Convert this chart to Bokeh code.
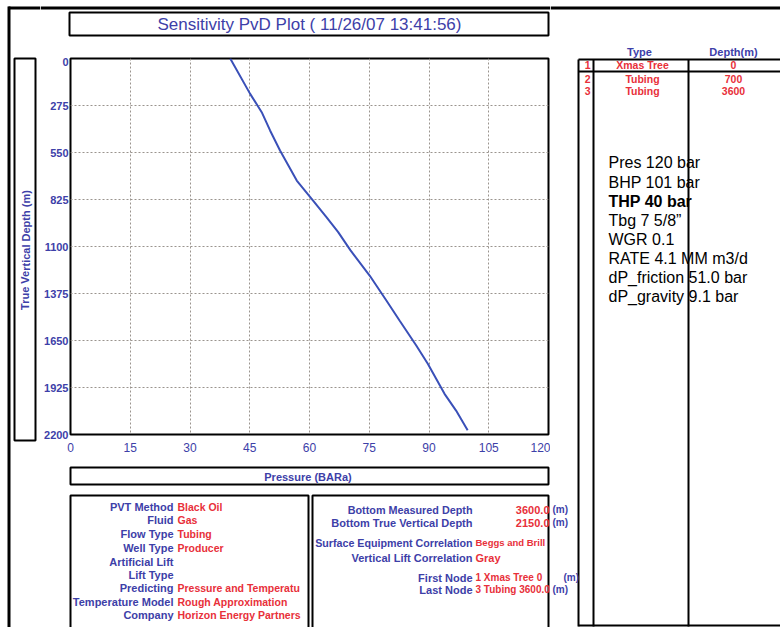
from bokeh.plotting import figure
from bokeh.models import Range1d, FixedTicker
from bokeh.layouts import row, column
from bokeh.core.properties import value
from bokeh.embed import file_html
from bokeh.resources import INLINE

# ---------------- data ----------------
pressure = [40.1, 45.1, 48.0, 50.1, 52.6, 54.7, 56.8, 60.9, 64.3, 67.2,
            70.3, 75.1, 79.3, 82.6, 86.8, 89.7, 93.9, 96.8, 99.7]
depth = [0, 207, 314, 421, 538, 626, 714, 832, 929, 1016,
         1123, 1270, 1416, 1533, 1679, 1786, 1962, 2060, 2175]
x_ticks = [0, 15, 30, 45, 60, 75, 90, 105, 120]
y_ticks = [0, 275, 550, 825, 1100, 1375, 1650, 1925, 2200]

title_text = "Sensitivity PvD Plot ( 11/26/07 13:41:56)"
y_title = "True Vertical Depth  (m)"
x_title = "Pressure  (BARa)"

left_keys = ["PVT Method", "Fluid", "Flow Type", "Well Type", "Artificial Lift",
             "Lift Type", "Predicting", "Temperature Model", "Company"]
left_vals = ["Black Oil", "Gas", "Tubing", "Producer", "", "",
             "Pressure and Temperatu", "Rough Approximation", "Horizon Energy Partners"]

mid_keys = ["Bottom Measured Depth", "Bottom True Vertical Depth",
            "Surface Equipment Correlation", "Vertical Lift Correlation",
            "First Node", "Last Node"]
mid_vals = ["3600.0", "2150.0", "Beggs and Brill", "Gray",
            "1 Xmas Tree 0", "3 Tubing 3600.0"]

table_cols = ["Type", "Depth(m)"]
table_no = ["1", "2", "3"]
table_type = ["Xmas Tree", "Tubing", "Tubing"]
table_depth = ["0", "700", "3600"]

notes = ["Pres 120 bar", "BHP 101 bar", "THP 40 bar", "Tbg 7 5/8\u201d", "WGR 0.1",
         "RATE 4.1 MM m3/d", "dP_friction 51.0 bar", "dP_gravity 9.1 bar"]

BLUE = "#3d40a8"
RED = "#e8303a"
FONT = "Liberation Sans"


# ---------------- helpers ----------------
def canvas_fig(x0, y0, w, h):
    f = figure(width=w, height=h, x_range=Range1d(x0, x0 + w), y_range=Range1d(y0 + h, y0),
               min_border=0, toolbar_location=None, x_axis_location=None,
               y_axis_location=None, output_backend="svg",
               background_fill_color="white", border_fill_color="white")
    f.outline_line_color = None
    f.grid.visible = False
    return f


def solid(f, l, r, t, b):
    f.quad(left=[l], right=[r], top=[t], bottom=[b], fill_color="black", line_color=None)


def frame_box(f, l, r, t, b, lw=2):
    f.quad(left=[l], right=[r], top=[t], bottom=[b], fill_color=None,
           line_color="black", line_width=lw)


def txt(f, x, y, s, color=BLUE, size="11px", style="normal", align="left", angle=0.0):
    f.text(x=[x], y=[y], text=[s], text_color=color, text_font=value(FONT),
           text_font_size=value(size), text_font_style=style, text_align=align,
           text_baseline="middle", angle=angle)


# ---------------- left strip (page border + y title) ----------------
lstrip = canvas_fig(0, 0, 40, 627)
solid(lstrip, 7, 10, 6, 627)
solid(lstrip, 8, 40, 6, 9)
frame_box(lstrip, 14, 35, 58, 440)
txt(lstrip, 25, 248, y_title, size="11px", style="bold", align="center", angle=1.5707963)

# ---------------- top strip (title) ----------------
top = canvas_fig(40, 0, 510, 57)
solid(top, 40, 550, 6, 9)
frame_box(top, 69, 548, 12, 35)
txt(top, 309, 24, title_text, size="17px", align="center")

# ---------------- main chart ----------------
p = figure(width=510, height=403, output_backend="svg", toolbar_location=None,
           x_range=Range1d(0, 120), y_range=Range1d(2200, 0),
           min_border_left=30, min_border_right=2, min_border_top=1, min_border_bottom=26,
           background_fill_color="white", border_fill_color="white")

p.line(pressure, depth, line_color="#3a50b8", line_width=2)

p.xaxis.ticker = FixedTicker(ticks=x_ticks)
p.yaxis.ticker = FixedTicker(ticks=y_ticks)
for ax in (p.xaxis[0], p.yaxis[0]):
    ax.axis_line_color = None
    ax.major_tick_line_color = None
    ax.minor_tick_line_color = None
    ax.major_tick_out = 0
    ax.major_tick_in = 0
    ax.minor_tick_out = 0
    ax.minor_tick_in = 0
    ax.major_label_text_color = BLUE
    ax.major_label_text_font = FONT
p.xaxis.major_label_text_font_size = "12px"
p.xaxis.major_label_standoff = 8
p.yaxis.major_label_text_font_size = "11px"
p.yaxis.major_label_text_font_style = "bold"
p.yaxis.major_label_standoff = 2

p.xgrid.ticker = FixedTicker(ticks=x_ticks)
p.ygrid.ticker = FixedTicker(ticks=y_ticks)
p.grid.grid_line_color = "#9a948e"
p.grid.grid_line_dash = "2 2"
p.grid.grid_line_width = 1

p.outline_line_color = "black"
p.outline_line_width = 2

# ---------------- bottom panel ----------------
bot = canvas_fig(40, 460, 510, 167)
frame_box(bot, 70, 548, 467, 484)
txt(bot, 309, 476, x_title, size="11px", style="bold", align="center")
frame_box(bot, 70, 308, 495, 632)
frame_box(bot, 312, 548, 495, 632)

left_y = [506, 519, 533, 547, 561, 574, 587, 601, 614]
for k, v, yy in zip(left_keys, left_vals, left_y):
    txt(bot, 173, yy, k, size="11px", style="bold", align="right")
    if v:
        txt(bot, 177, yy, v, color=RED, size="10.5px", style="bold", align="left")

mid_y = [509, 522, 542, 557, 577, 589]
mid_sizes = ["10.8px", "11px", "10.7px", "11px", "11px", "11px"]
val_sizes = ["11px", "11px", "9.5px", "11px", "10px", "10px"]
for i, (k, v, yy, sz, vz) in enumerate(zip(mid_keys, mid_vals, mid_y, mid_sizes, val_sizes)):
    txt(bot, 472, yy, k, size=sz, style="bold", align="right")
    if i in (0, 1):
        txt(bot, 549, yy, v, color=RED, size=vz, style="bold", align="right")
    else:
        txt(bot, 475, yy, v, color=RED, size=vz, style="bold", align="left")

# ---------------- right panel ----------------
right = canvas_fig(550, 0, 230, 627)
solid(right, 550, 780, 6, 9)
solid(right, 577, 579, 59, 626)
solid(right, 592, 594, 59, 626)
solid(right, 687, 689, 59, 626)
solid(right, 578, 780, 58, 60)
solid(right, 578, 780, 70, 72)
solid(right, 578, 780, 624, 626)

for i, yy in enumerate(mid_y):
    if i in (0, 1, 5):
        txt(right, 552, yy, "(m)", size="10px", style="bold")
    elif i == 4:
        txt(right, 563, yy, "(m)", size="10px", style="bold")

txt(right, 639, 51, table_cols[0], size="11px", style="bold", align="center")
txt(right, 733, 51, table_cols[1], size="11px", style="bold", align="center")
row_y = [64, 78, 90]
for n, t, d, yy in zip(table_no, table_type, table_depth, row_y):
    txt(right, 590, yy, n, color=RED, size="10.5px", style="bold", align="right")
    txt(right, 642, yy, t, color=RED, size="10.5px", style="bold", align="center")
    txt(right, 733, yy, d, color=RED, size="10.5px", style="bold", align="center")

note_y = [162, 182, 201, 220, 239, 258, 277, 296]
for t, yy in zip(notes, note_y):
    txt(right, 608, yy, t, color="black", size="16px",
        style="bold" if t.startswith("THP") else "normal")

layout = row(lstrip, column(top, row(p), bot), right)
open("out.html", "w").write(file_html(layout, INLINE))
